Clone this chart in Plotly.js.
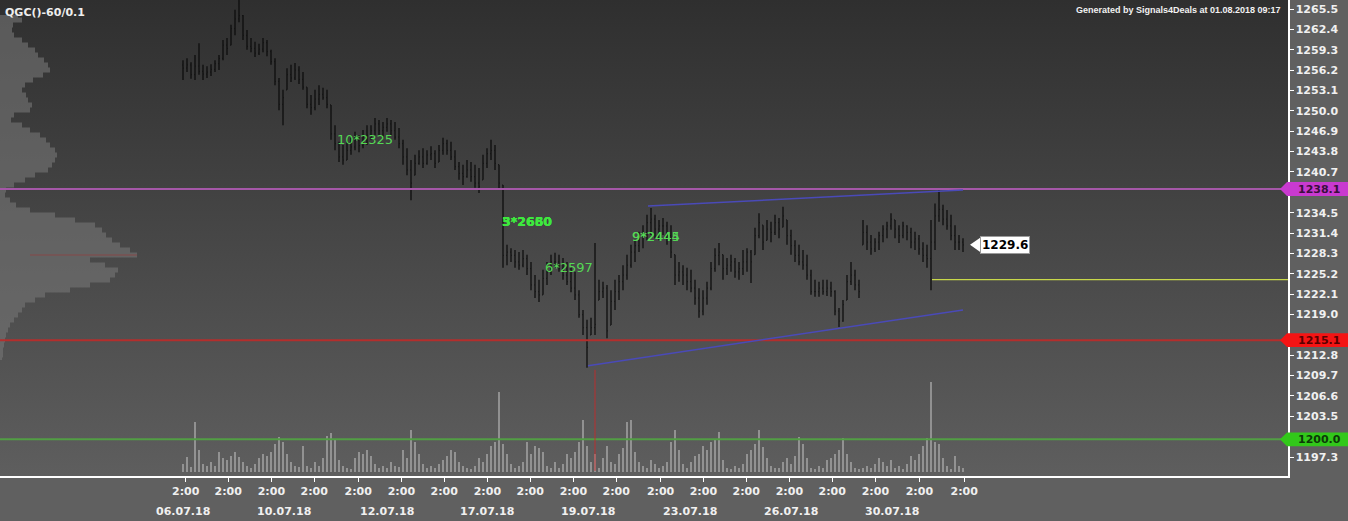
<!DOCTYPE html>
<html><head><meta charset="utf-8">
<script src="https://cdn.plot.ly/plotly-3.0.1.min.js"></script>
<style>
html,body{margin:0;padding:0;background:#606060;}
#chart{width:1348px;height:521px;background:linear-gradient(to bottom,#2f2f2f 0%,#5e5e5e 100%) 0 0/1288px 476px no-repeat,#606060;}
</style></head><body><div id="chart"></div>
<script>
// ---------------- DATA ----------------
const hi = [1257.7,1258.0,1257.4,1258.5,1260.3,1257.0,1256.8,1257.1,1257.7,1258.5,
1260.8,1261.1,1263.1,1265.4,1266.9,1264.6,1262.3,1261.1,1260.5,1260.2,
1261.1,1260.8,1259.3,1258.0,1255.0,1253.2,1256.5,1257.0,1257.3,1256.8,
1255.9,1253.6,1252.4,1253.2,1253.9,1253.5,1253.2,1250.9,1247.8,1245.3,
1244.8,1245.6,1245.9,1246.8,1246.3,1247.1,1247.8,1247.8,1248.9,1248.6,
1248.3,1248.9,1248.6,1248.3,1247.4,1245.6,1244.3,1242.5,1243.3,1244.0,
1244.3,1244.0,1244.6,1244.0,1244.8,1245.9,1245.6,1245.3,1244.0,1242.2,
1241.8,1242.5,1242.2,1241.8,1241.3,1243.3,1244.3,1245.6,1244.8,1241.8,
1238.7,1229.6,1229.1,1228.8,1228.5,1228.8,1228.1,1227.0,1225.0,1224.3,
1225.8,1227.0,1228.1,1228.4,1228.1,1227.6,1227.0,1226.1,1225.5,1222.7,
1219.7,1218.2,1218.5,1229.9,1224.3,1224.0,1223.5,1222.7,1224.3,1225.0,
1226.5,1228.1,1229.6,1230.3,1231.6,1232.6,1234.2,1235.2,1234.2,1233.4,
1233.7,1233.1,1232.6,1228.1,1227.0,1226.5,1226.1,1225.8,1224.3,1223.0,
1222.7,1224.0,1227.0,1229.1,1229.9,1228.1,1227.6,1228.1,1227.6,1227.0,
1228.8,1229.1,1228.8,1232.2,1234.4,1232.6,1233.4,1233.1,1234.2,1233.7,
1235.4,1233.4,1231.9,1230.3,1229.6,1228.8,1228.1,1225.8,1224.3,1224.0,
1224.3,1224.3,1224.0,1222.7,1220.0,1221.2,1225.0,1227.0,1225.8,1224.3,
1233.4,1232.6,1231.1,1230.6,1231.6,1232.6,1233.1,1234.4,1233.4,1232.6,
1233.1,1232.6,1232.2,1231.6,1231.1,1230.0,1229.6,1233.4,1235.9,1237.9,
1235.7,1234.9,1234.2,1232.6,1231.1,1230.6];
const lo = [1254.7,1255.9,1254.9,1254.7,1255.5,1254.7,1255.0,1255.3,1255.9,1256.2,
1257.7,1258.5,1260.0,1261.5,1263.5,1260.8,1259.3,1258.9,1258.2,1258.5,
1258.9,1258.3,1257.0,1253.9,1250.1,1247.8,1253.2,1254.4,1254.7,1254.1,
1253.2,1250.4,1249.4,1250.1,1250.9,1251.7,1250.4,1245.6,1244.0,1242.2,
1241.8,1242.5,1243.3,1244.0,1243.7,1244.3,1244.8,1245.6,1246.3,1246.3,
1245.9,1246.8,1246.3,1245.6,1244.3,1241.8,1240.2,1236.4,1240.2,1241.8,
1241.3,1241.8,1242.5,1241.3,1242.2,1243.3,1243.3,1242.5,1241.0,1239.5,
1238.7,1239.8,1239.2,1238.3,1237.5,1239.5,1241.3,1242.5,1241.0,1238.0,
1226.1,1226.5,1227.0,1226.1,1225.8,1226.2,1225.0,1222.7,1221.5,1220.9,
1222.0,1223.5,1225.0,1226.1,1225.5,1224.3,1223.5,1222.4,1221.2,1218.5,
1215.9,1210.9,1215.9,1215.9,1221.2,1221.5,1215.4,1217.4,1219.7,1221.2,
1222.7,1224.3,1226.1,1227.0,1228.5,1229.1,1230.3,1231.1,1230.6,1230.3,
1231.1,1229.6,1227.6,1223.5,1224.0,1223.5,1222.7,1222.4,1220.5,1218.5,
1218.9,1220.5,1222.7,1225.5,1226.5,1224.3,1225.0,1225.5,1224.6,1224.3,
1225.0,1225.5,1223.8,1228.1,1230.6,1228.8,1230.3,1230.0,1231.1,1230.6,
1232.3,1229.6,1228.1,1227.0,1226.5,1225.8,1224.3,1222.0,1221.7,1221.7,
1222.0,1221.8,1221.7,1218.9,1217.1,1217.9,1221.2,1223.5,1222.7,1221.5,
1229.6,1228.8,1228.1,1228.5,1228.8,1230.0,1230.6,1231.9,1230.6,1229.9,
1230.6,1230.3,1229.1,1228.8,1228.1,1227.0,1226.1,1222.7,1228.8,1233.1,
1232.6,1231.9,1230.3,1228.8,1228.8,1228.5];
const cl = [1256.5,1257.0,1255.5,1256.8,1256.0,1255.6,1255.9,1256.3,1257.2,1258.0,
1260.0,1259.5,1262.5,1264.0,1264.5,1261.5,1259.8,1259.5,1258.8,1259.4,
1260.4,1259.0,1257.5,1254.5,1251.0,1252.0,1255.5,1255.0,1256.2,1254.8,
1253.6,1251.0,1250.5,1251.8,1252.5,1252.0,1251.0,1246.5,1245.0,1243.0,
1242.5,1244.0,1244.5,1245.5,1244.7,1246.0,1246.3,1247.0,1248.0,1247.0,
1247.5,1248.0,1247.0,1246.0,1245.0,1243.0,1241.0,1239.0,1242.0,1243.0,
1242.0,1243.3,1243.5,1242.0,1244.0,1245.0,1244.0,1243.0,1241.5,1240.5,
1240.0,1241.0,1240.0,1239.0,1238.5,1242.0,1243.5,1244.0,1242.0,1239.0,
1228.0,1228.5,1228.0,1227.0,1226.5,1227.5,1226.0,1223.5,1222.5,1222.0,
1224.5,1225.5,1227.0,1227.0,1226.0,1225.0,1224.0,1223.0,1222.0,1219.0,
1217.0,1214.0,1217.0,1217.5,1222.5,1223.0,1216.5,1221.0,1222.5,1224.0,
1225.0,1226.5,1228.5,1229.5,1231.0,1231.5,1233.0,1233.5,1232.0,1232.5,
1232.5,1231.0,1228.5,1225.0,1225.5,1225.0,1224.0,1223.0,1221.5,1219.5,
1221.5,1223.0,1226.0,1228.0,1228.5,1226.0,1226.5,1227.0,1225.5,1226.0,
1227.0,1228.5,1227.0,1231.0,1233.0,1230.0,1232.0,1231.5,1233.0,1232.0,
1234.0,1231.0,1229.5,1228.0,1227.0,1226.5,1225.0,1222.5,1222.5,1223.0,
1222.5,1223.0,1222.5,1219.5,1218.0,1220.5,1224.0,1225.0,1223.5,1222.5,
1231.5,1230.0,1229.0,1230.0,1231.0,1232.0,1232.5,1233.5,1232.0,1231.0,
1232.5,1231.5,1230.0,1230.5,1229.0,1228.0,1227.5,1230.0,1234.0,1235.0,
1233.5,1232.5,1231.0,1230.0,1230.0,1229.6];
const firstOpen = 1257.0;
// volume per bar (hundreds of lots)
const volume = [8,15,5,50,22,8,6,10,6,20,
14,12,16,20,15,10,6,4,8,14,
18,16,20,28,35,30,18,10,6,5,
26,6,4,10,6,14,36,39,32,12,
6,4,3,14,20,18,22,16,8,4,
6,4,10,6,5,22,14,42,30,18,
8,4,6,4,8,12,16,22,20,10,
6,4,3,6,14,10,18,26,30,80,
28,18,8,4,6,10,30,18,26,24,
20,6,4,10,4,8,18,14,20,30,
52,26,10,18,4,14,26,10,8,18,
24,50,52,20,10,6,4,12,8,4,
6,10,30,42,22,8,4,10,16,18,
26,22,30,32,40,12,4,3,6,4,
8,18,22,28,42,25,14,6,4,4,
10,14,8,16,35,28,14,4,3,6,
4,12,14,18,22,34,18,10,4,3,
4,6,4,8,14,10,6,12,4,6,
3,8,16,12,18,26,34,90,30,28,
14,6,3,16,6,4];
// volume profile by price
const profilePrice = [1264.59,1263.83,1263.06,1262.30,1261.54,1260.78,1260.02,1259.26,1258.50,1257.74,
1256.98,1256.22,1255.45,1254.69,1253.93,1253.17,1252.41,1251.65,1250.89,1250.13,
1249.37,1248.61,1247.84,1247.08,1246.32,1245.56,1244.80,1244.04,1243.28,1242.52,
1241.76,1241.00,1240.23,1239.47,1238.71,1237.95,1237.19,1236.43,1235.67,1234.91,
1234.15,1233.38,1232.62,1231.86,1231.10,1230.34,1229.58,1228.82,1228.06,1227.30,
1226.54,1225.77,1225.01,1224.25,1223.49,1222.73,1221.97,1221.21,1220.45,1219.69,
1218.93,1218.16,1217.40,1216.64,1215.88,1215.12,1214.36,1213.60,1212.84,1212.08];
const profileVol = [18,22,13,12,14,22,28,35,38,44,
48,50,43,33,25,22,26,28,32,30,
14,11,22,30,40,46,50,55,57,55,
52,48,35,25,14,6,5,10,16,30,
55,75,95,102,106,112,120,130,137,90,
105,118,115,110,90,70,45,35,25,22,
18,14,10,8,6,5,4,3,3,2];
const pocPrice = 1228.06;

// axis labels
const yTicks = [1265.5,1262.4,1259.3,1256.2,1253.1,1250.0,1246.9,1243.8,1240.7,1234.5,1231.4,1228.3,1225.2,1222.1,1219.0,1212.8,1209.7,1206.6,1203.5,1197.3];
const hourTicks = [0.675,11.3,22.1,32.8,43.8,54.6,65.3,76.1,86.8,97.6,108.3,119.4,130.1,140.8,151.6,162.3,173.1,184.1,195.3];
const hourLabel = '2:00';
const dateLabels = ['06.07.18','10.07.18','12.07.18','17.07.18','19.07.18','23.07.18','26.07.18','30.07.18'];
const dateBars = [0,25.25,51,76,101.25,126.75,152,177.25];

// levels
const levelPrices = [1238.1, 1215.1, 1200.0];
const levelColors = ['#a557a8','#b42e2c','#529e44'];
const levelBoxColors = ['#c93ad0','#f41414','#32c81a'];
const levelTextColors = ['#3a0f3c','#5a0000','#0c3a08'];
const stopLevel = 1224.3, stopFromBar = 187.25;
const trendUpper = [[116.25,1235.5],[195,1237.95]];
const trendLower = [[101.25,1211.2],[195,1219.7]];
const markerBar = 103, markerTop = 1210.6, markerBottom = 1195.2;

// signal labels
const signalText = ['10*2325','6*2597','9*2445','9*2444','3*2660','5*2650','3*2680'];
const signalBar = [38,90,111.75,111.75,79.25,79.25,79.25];
const signalPrice = [1245.7,1226.2,1230.9,1230.9,1233.2,1233.2,1233.2];
const signalBold = [false,false,false,false,true,true,true];

const chartTitle = 'QGC()-60/0.1';
const generatedText = 'Generated by Signals4Deals at 01.08.2018 09:17';

// ---------------- BUILD ----------------
const idx = hi.map((_, i) => i);
const op = cl.map((c, i) => {
  const prev = i === 0 ? firstOpen : cl[i-1];
  return Math.min(hi[i], Math.max(lo[i], prev));
});
const N = idx.length;
const lastClose = cl[N-1];
const FONT = 'DejaVu Sans, Verdana, sans-serif';

const traces = [
  {type:'scatter', mode:'lines', x:[0].concat(profileVol, [0]),
   y:[profilePrice[0]].concat(profilePrice, [profilePrice[profilePrice.length-1]]),
   xaxis:'x2', yaxis:'y', fill:'toself', fillcolor:'rgba(117,117,117,0.62)',
   line:{width:0, shape:'vhv'}, hoverinfo:'skip'},
  {type:'bar', x:idx, y:volume, xaxis:'x', yaxis:'y2', width:0.5,
   marker:{color:'rgba(170,170,170,0.7)', line:{width:0}}, hoverinfo:'skip'},
  {type:'ohlc', x:idx, open:op, high:hi, low:lo, close:cl, xaxis:'x', yaxis:'y',
   increasing:{line:{color:'#0c0c0c', width:1.25}}, decreasing:{line:{color:'#0c0c0c', width:1.25}},
   tickwidth:0.2, hoverinfo:'skip'}
];

const shapes = [];
// POC
shapes.push({type:'line', xref:'x2', yref:'y', x0:30, x1:137, y0:pocPrice, y1:pocPrice, line:{color:'rgba(150,60,60,0.35)', width:2}});
levelPrices.forEach((p, k) => {
  shapes.push({type:'line', xref:'paper', yref:'y', x0:0, x1:1, y0:p, y1:p, line:{color:levelColors[k], width:2}});
});
shapes.push({type:'line', xref:'x', yref:'y', x0:stopFromBar, x1:400, y0:stopLevel, y1:stopLevel, line:{color:'#c8d84a', width:1.3}});
[trendUpper, trendLower].forEach(t => {
  shapes.push({type:'line', xref:'x', yref:'y', x0:t[0][0], y0:t[0][1], x1:t[1][0], y1:t[1][1], line:{color:'#4a4ab8', width:1.5}});
});
shapes.push({type:'line', xref:'x', yref:'y', x0:markerBar, x1:markerBar, y0:markerTop, y1:markerBottom, line:{color:'rgba(200,40,40,0.85)', width:1}});
// right level markers
const tipX = 1280/1288, boxL = 1287/1288, boxR = 1350/1288, h = 1.05;
levelPrices.forEach((p, k) => {
  shapes.push({type:'path', xref:'paper', yref:'y', layer:'above',
    path:`M ${tipX} ${p} L ${boxL} ${p+h} L ${boxR} ${p+h} L ${boxR} ${p-h} L ${boxL} ${p-h} Z`,
    fillcolor:levelBoxColors[k], line:{width:0}});
});
// last price arrow
shapes.push({type:'path', xref:'x', yref:'y',
  path:`M ${N+0.75} ${lastClose} L ${N+3.3} ${lastClose+1.1} L ${N+3.3} ${lastClose-1.1} Z`,
  fillcolor:'#ffffff', line:{width:0}});

const annotations = [];
annotations.push({xref:'paper', yref:'paper', x:0, y:1, xshift:3, yshift:-4, xanchor:'left', yanchor:'top', showarrow:false,
  text:chartTitle, font:{family:FONT, size:11, color:'#eeeeee', weight:'bold'}});
annotations.push({xref:'paper', yref:'paper', x:1, y:1, xshift:-5, yshift:-3, xanchor:'right', yanchor:'top', showarrow:false,
  text:generatedText, font:{family:'Liberation Sans, Arial, sans-serif', size:9, color:'#f2f2f2', weight:'bold'}});
dateLabels.forEach((t, k) => {
  annotations.push({xref:'x', yref:'paper', x:dateBars[k], y:0, yshift:-35, yanchor:'middle', xanchor:'center', showarrow:false,
    text:t, font:{family:FONT, size:11, color:'#f0f0f0', weight:'bold'}});
});
signalText.forEach((t, k) => {
  annotations.push({xref:'x', yref:'y', x:signalBar[k], y:signalPrice[k], xanchor:'left', yanchor:'middle', showarrow:false,
    text:t, font:{family:FONT, size:signalBold[k]?12.5:13, color:signalBold[k]?'#3ee83e':'#55d855', weight:signalBold[k]?'bold':'normal'}});
});
levelPrices.forEach((p, k) => {
  annotations.push({xref:'paper', yref:'y', x:1296/1288, y:p, xanchor:'left', yanchor:'middle', showarrow:false,
    text:p.toFixed(1), font:{family:FONT, size:11, color:levelTextColors[k], weight:'bold'}});
});
annotations.push({xref:'x', yref:'y', x:N+3.3, y:lastClose, xanchor:'left', yanchor:'middle', showarrow:false,
  text:lastClose.toFixed(1), bgcolor:'#ffffff', bordercolor:'#9a9a9a', borderwidth:1, borderpad:1,
  font:{family:FONT, size:12, color:'#000000', weight:'bold'}});

const layout = {
  width:1348, height:521,
  margin:{l:0, r:60, t:0, b:45, pad:0},
  paper_bgcolor:'rgba(0,0,0,0)', plot_bgcolor:'rgba(0,0,0,0)',
  showlegend:false, hovermode:false, dragmode:false,
  bargap:0,
  xaxis:{range:[-45.75, 276.25], tickmode:'array', tickvals:hourTicks, ticktext:hourTicks.map(() => hourLabel),
    ticks:'outside', ticklen:4, tickcolor:'#ffffff', tickwidth:1, showline:true, linecolor:'#ffffff', linewidth:1.5,
    showgrid:false, zeroline:false, rangeslider:{visible:false}, fixedrange:true,
    tickfont:{family:FONT, size:11, color:'#f0f0f0', weight:'bold'}},
  yaxis:{side:'right', range:[1194.42, 1266.87], tickmode:'array', tickvals:yTicks, ticktext:yTicks.map(v => v.toFixed(1)),
    ticks:'outside', ticklen:4, tickcolor:'#ffffff', tickwidth:1, showline:true, linecolor:'#ffffff', linewidth:1.5,
    showgrid:false, zeroline:false, fixedrange:true,
    tickfont:{family:FONT, size:11, color:'#f0f0f0', weight:'bold'}},
  yaxis2:{overlaying:'y', range:[-4, 472], visible:false, fixedrange:true},
  xaxis2:{overlaying:'x', range:[0, 1288], visible:false, fixedrange:true},
  shapes:shapes, annotations:annotations
};

Plotly.newPlot('chart', traces, layout, {staticPlot:true, displayModeBar:false});
</script></body></html>
